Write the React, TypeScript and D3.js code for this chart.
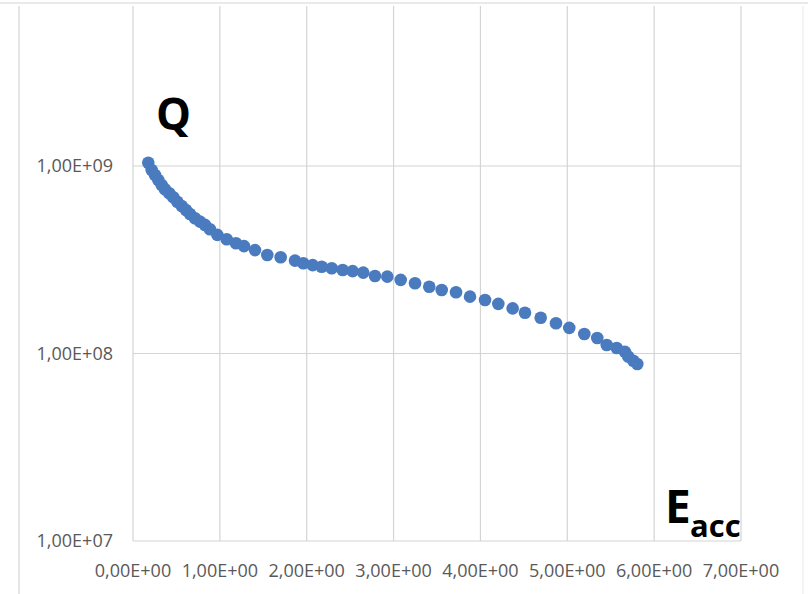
import React from "react";
import * as d3 from "d3";

const eaccValues: number[] = [
  0.176, 0.215, 0.253, 0.291, 0.33, 0.368, 0.418, 0.464, 0.51, 0.561, 0.61, 0.656, 0.714, 0.771, 0.829, 0.886,
  0.971, 1.079, 1.186, 1.278, 1.405, 1.546, 1.7, 1.865, 1.961, 2.069, 2.172, 2.288, 2.414, 2.529, 2.651, 2.786,
  2.928, 3.082, 3.247, 3.411, 3.554, 3.719, 3.88, 4.053, 4.206, 4.371, 4.513, 4.694, 4.87, 5.023, 5.196, 5.345,
  5.454, 5.569, 5.664, 5.702, 5.76, 5.806,
];
const qValues: number[] = [
  1.041e9, 9.52e8, 8.95e8, 8.42e8, 7.92e8, 7.51e8, 7.15e8, 6.81e8, 6.45e8, 6.12e8, 5.83e8, 5.55e8, 5.26e8, 5.05e8, 4.85e8, 4.6e8,
  4.29e8, 4.07e8, 3.87e8, 3.74e8, 3.56e8, 3.35e8, 3.26e8, 3.13e8, 3.03e8, 2.96e8, 2.9e8, 2.85e8, 2.79e8, 2.75e8, 2.7e8, 2.59e8,
  2.57e8, 2.47e8, 2.37e8, 2.27e8, 2.18e8, 2.12e8, 2.01e8, 1.93e8, 1.84e8, 1.74e8, 1.65e8, 1.55e8, 1.45e8, 1.37e8, 1.27e8, 1.21e8,
  1.11e8, 1.07e8, 1.02e8, 9.62e7, 9.15e7, 8.79e7,
];
const xTicks: number[] = [0, 1, 2, 3, 4, 5, 6, 7];
const xTickLabels: string[] = ["0,00E+00", "1,00E+00", "2,00E+00", "3,00E+00", "4,00E+00", "5,00E+00", "6,00E+00", "7,00E+00"];
const yTicks: number[] = [1e7, 1e8, 1e9];
const yTickLabels: string[] = ["1,00E+07", "1,00E+08", "1,00E+09"];

const W = 808;
const H = 594;
const left = 133;
const right = 741;
const top = 6;
const bottom = 541;

export default function App() {
  const x = d3.scaleLinear().domain([0, 7]).range([left, right]);
  // plot extends beyond the visible top (cropped), 1e10 lies above the image
  const y = d3.scaleLog().domain([1e7, 1e10]).range([bottom, bottom - 3 * 187.5]);
  const grid = "#d4d4d4";
  const font = "'Open Sans', 'DejaVu Sans', sans-serif";
  return (
    <svg width={W} height={H} style={{ position: "absolute", left: 0, top: 0, background: "#fff" }}>
      <rect x={0} y={0} width={W} height={H} fill="#fff" />
      {/* outer frame */}
      <line x1={0} x2={W} y1={3} y2={3} stroke="#e2e2e2" strokeWidth={1.5} />
      <line x1={19} x2={19} y1={6} y2={H} stroke="#dcdcdc" strokeWidth={1.5} />
      <line x1={803} x2={803} y1={6} y2={H} stroke="#efefef" strokeWidth={1.5} />
      {/* vertical gridlines */}
      {xTicks.map((t) => (
        <line key={"vx" + t} x1={x(t)} x2={x(t)} y1={top} y2={bottom} stroke={grid} strokeWidth={1.2} />
      ))}
      {/* horizontal gridlines */}
      {yTicks.map((t) => (
        <line key={"hy" + t} x1={left} x2={right} y1={y(t)} y2={y(t)} stroke={grid} strokeWidth={1.2} />
      ))}
      {/* y labels */}
      {yTicks.map((t, i) => (
        <text key={"yl" + t} x={113} y={y(t)} dy="0.36em" textAnchor="end" fontFamily={font} fontSize={18} fill="#595959">
          {yTickLabels[i]}
        </text>
      ))}
      {/* x labels */}
      {xTicks.map((t, i) => (
        <text key={"xl" + t} x={x(t)} y={571} dy="0.36em" textAnchor="middle" fontFamily={font} fontSize={18} fill="#595959">
          {xTickLabels[i]}
        </text>
      ))}
      {/* points */}
      {eaccValues.map((v, i) => (
        <circle key={"p" + i} cx={x(v)} cy={y(qValues[i])} r={6.3} fill="#4a7bbf" />
      ))}
      {/* annotations */}
      <text x={156} y={130} fontFamily={font} fontWeight="bold" fontSize={44} fill="#000">Q</text>
      <text x={665} y={523} fontFamily={font} fontWeight="bold" fontSize={46} fill="#000">E</text>
      <text x={690} y={537} fontFamily={font} fontWeight="bold" fontSize={31} fill="#000">acc</text>
    </svg>
  );
}
